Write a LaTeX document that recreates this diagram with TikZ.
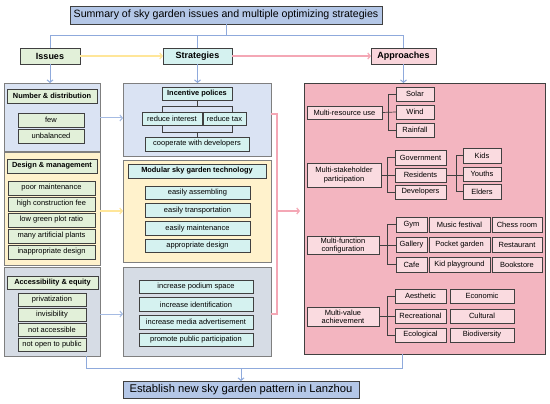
\documentclass[tikz,border=0pt]{standalone}
\usepackage{fontspec}
\setmainfont{Liberation Sans}
\usetikzlibrary{arrows.meta}
\definecolor{titleb}{HTML}{B4C7E7}
\definecolor{greenf}{HTML}{E2F0D9}
\definecolor{cyanf}{HTML}{D5F2F0}
\definecolor{pinkh}{HTML}{F9D5DB}
\definecolor{secb}{HTML}{DAE3F3}
\definecolor{secy}{HTML}{FFF2CC}
\definecolor{secg}{HTML}{D6DCE5}
\definecolor{apf}{HTML}{F3B5C0}
\definecolor{api}{HTML}{FADBE0}
\definecolor{lineb}{HTML}{8FAADC}
\definecolor{liney}{HTML}{FFE699}
\definecolor{linep}{HTML}{F4A7B5}
\definecolor{edgec}{HTML}{404040}
\definecolor{secedge}{HTML}{7F7F7F}
\newcommand{\mkbox}[7]{\node[#6, minimum width={#4-#2}, minimum height={#5-#3}] (#1) at ({(#2+#4)/2},{(#3+#5)/2}) {#7};}
\tikzset{
  base/.style={inner sep=0pt, outer sep=0pt, align=center, text=black, font=\fontsize{7.5}{8.4}\selectfont},
  sect/.style={base, draw=secedge, line width=0.8pt},
  hdr/.style={base, draw=edgec, line width=0.8pt, font=\bfseries\fontsize{7.4}{8.5}\selectfont},
  itg/.style={base, draw=edgec, fill=greenf, line width=0.7pt},
  itc/.style={base, draw=edgec, fill=cyanf, line width=0.7pt},
  itp/.style={base, draw=edgec, fill=api, line width=0.7pt},
  top/.style={base, draw=edgec, line width=0.8pt, font=\bfseries\fontsize{9}{10}\selectfont},
  big/.style={base, draw=edgec, fill=titleb, line width=0.8pt},
  bl/.style={draw=lineb, line width=1pt},
  tipb/.style={-{Straight Barb[length=2.5pt,width=6pt]}},
  brk/.style={draw=edgec, line width=0.7pt},
}
\begin{document}
\begin{tikzpicture}[x=1pt,y=-1pt]
\useasboundingbox[fill=white] (0,0) rectangle (550,404);
% top level
\mkbox{title}{70}{6}{382}{24}{big, font=\fontsize{10.6}{12}\selectfont}{Summary of sky garden issues and multiple optimizing strategies}
\mkbox{iss}{20}{48}{80}{64}{top, fill=greenf}{Issues}
\mkbox{str}{163}{48}{232}{64}{top, fill=cyanf}{Strategies}
\mkbox{app}{371}{48}{436}{64}{top, fill=pinkh}{Approaches}
\coordinate (tl) at (226,36);
\draw[bl] (title.south) -- (tl);
\draw[bl] (tl) -| (iss.north);
\draw[bl] (tl) -| (app.north);
\draw[bl] (str.north |- tl) -- (str.north);
\draw[draw=liney, line width=1.2pt, tipb] (iss.east) -- (str.west);
\draw[draw=linep, line width=1.2pt, tipb] (str.east) -- (app.west);
% sections
\mkbox{LA}{4}{83}{100}{151}{sect, fill=secb}{}
\mkbox{LB}{4}{152}{100}{265}{sect, fill=secy}{}
\mkbox{LC}{4}{267}{100}{356}{sect, fill=secg}{}
\mkbox{MA}{123}{83}{271}{156}{sect, fill=secb}{}
\mkbox{MB}{123}{160}{271}{262}{sect, fill=secy}{}
\mkbox{MC}{123}{267}{271}{356}{sect, fill=secg}{}
\mkbox{AP}{304}{83}{545}{354}{sect, draw=edgec, fill=apf}{}
\draw[bl, tipb] (iss.south) -- (LA.north -| iss.south);
\draw[bl, tipb] (str.south) -- (MA.north -| str.south);
\draw[bl, tipb] (app.south) -- (AP.north -| app.south);
% left column
\mkbox{h1}{7}{89}{97}{103}{hdr, fill=greenf}{Number \& distribution}
\mkbox{few}{18}{113}{84}{127}{itg}{few}
\mkbox{unb}{18}{129}{84}{143}{itg}{unbalanced}
\mkbox{h2}{7}{159}{97}{173}{hdr, fill=greenf}{Design \& management}
\mkbox{pm}{8}{181}{95}{195}{itg}{poor maintenance}
\mkbox{hc}{8}{197}{95}{211}{itg}{high construction fee}
\mkbox{lg}{8}{213}{95}{227}{itg}{low green plot ratio}
\mkbox{ma}{8}{229}{95}{243}{itg}{many artificial plants}
\mkbox{idz}{8}{245}{95}{259}{itg}{inappropriate design}
\mkbox{h3}{7}{276}{98}{289}{hdr, fill=greenf}{Accessibility \& equity}
\mkbox{pv}{18}{293}{86}{306.5}{itg}{privatization}
\mkbox{iv}{18}{308}{86}{321.5}{itg}{invisibility}
\mkbox{na}{18}{323}{86}{336.5}{itg}{not accessible}
\mkbox{no}{18}{338}{86}{351.5}{itg}{not open to public}
% middle column
\coordinate (brTL) at (162,106);
\coordinate (brBR) at (232,132);
\mkbox{ip}{162}{87}{232}{100}{hdr, fill=cyanf}{Incentive polices}
\mkbox{coop}{145}{137}{249}{151}{itc}{cooperate with developers}
\draw[brk] (brTL) rectangle (brBR);
\draw[brk] (ip.south) -- (ip.south |- brTL);
\draw[brk] (coop.north |- brBR) -- (coop.north);
\mkbox{ri}{142}{112}{202}{125.5}{itc}{reduce interest}
\mkbox{rt}{203}{112}{246}{125.5}{itc}{reduce tax}
\mkbox{mod}{128}{164}{266}{178}{hdr, fill=cyanf}{Modular sky garden technology}
\mkbox{ea}{145}{186}{250}{199.5}{itc}{easily assembling}
\mkbox{et}{145}{203.8}{250}{217.3}{itc}{easily transportation}
\mkbox{em}{145}{221.6}{250}{235.1}{itc}{easily maintenance}
\mkbox{ad}{145}{239.3}{250}{252.8}{itc}{appropriate design}
\mkbox{ps}{139}{280}{253}{293.5}{itc}{increase podium space}
\mkbox{ii}{139}{297.7}{253}{311.2}{itc}{increase identification}
\mkbox{im}{139}{315.4}{253}{328.9}{itc}{increase media advertisement}
\mkbox{pp}{139}{333}{253}{346.5}{itc}{promote public participation}
% inter-column arrows
\draw[draw=lineb!80, line width=1pt, tipb] (LA.east |- 0,118) -- (MA.west |- 0,118);
\draw[draw=liney, line width=1.2pt, tipb] (LB.east |- MB.west) -- (MB.west);
\draw[draw=lineb!80, line width=1pt, tipb] (LC.east |- 0,314) -- (MC.west |- 0,314);
\coordinate (pbT) at (277,114);
\coordinate (pbB) at (277,314);
\coordinate (pbM) at (277,211);
\draw[draw=linep, line width=1.2pt] (MA.east |- pbT) -- (pbT) -- (pbB) -- (MC.east |- pbB);
\draw[draw=linep, line width=1.2pt, tipb, shorten >=4pt] (pbM) -- (AP.west |- pbM);
% approaches
\mkbox{mr}{307}{106}{382}{119}{itp}{Multi-resource use}
\mkbox{solar}{396}{87}{434}{101}{itp}{Solar}
\mkbox{wind}{396}{105}{434}{119}{itp}{Wind}
\mkbox{rain}{396}{123}{434}{137}{itp}{Rainfall}
\draw[brk] (solar.west) -- ++(-8,0) |- (rain.west);
\draw[brk] (mr.east) -- (wind.west);
\mkbox{ms}{307}{163}{381}{187}{itp}{Multi-stakeholder\\participation}
\mkbox{gov}{395}{150}{446}{165}{itp}{Government}
\mkbox{res}{395}{168}{446}{182}{itp}{Residents}
\mkbox{dev}{395}{185}{446}{199}{itp}{Developers}
\draw[brk] (gov.west) -- ++(-8,0) |- (dev.west);
\draw[brk] (ms.east) -- (res.west);
\mkbox{kids}{463}{148}{501}{163}{itp}{Kids}
\mkbox{youths}{463}{167}{501}{181}{itp}{Youths}
\mkbox{elders}{463}{184}{501}{199}{itp}{Elders}
\draw[brk] (kids.west) -- ++(-7,0) |- (elders.west);
\draw[brk] (res.east) -- (res.east -| youths.west);
\mkbox{mf}{307}{236.5}{379}{254.5}{itp}{Multi-function\\configuration}
\mkbox{gym}{396}{217}{427}{232}{itp}{Gym}
\mkbox{music}{429}{217}{490}{232}{itp}{Music festival}
\mkbox{chess}{492}{217}{542}{232}{itp}{Chess room}
\mkbox{gal}{396}{237}{427}{252}{itp}{Gallery}
\mkbox{pocket}{429}{237}{490}{252}{itp}{Pocket garden}
\mkbox{rest}{492}{237}{542}{252}{itp}{Restaurant}
\mkbox{cafe}{396}{257}{427}{272}{itp}{Cafe}
\mkbox{kidp}{429}{257}{490}{272}{itp}{Kid playground}
\mkbox{book}{492}{257}{542}{272}{itp}{Bookstore}
\draw[brk] (gym.west) -- ++(-9,0) |- (cafe.west);
\draw[brk] (mf.east) -- (mf.east -| gal.west);
\mkbox{mv}{307}{307.5}{379}{326}{itp}{Multi-value\\achievement}
\mkbox{aes}{395}{289}{446}{303}{itp}{Aesthetic}
\mkbox{eco}{450}{289}{514}{303}{itp}{Economic}
\mkbox{rec}{395}{309}{446}{323}{itp}{Recreational}
\mkbox{cul}{450}{309}{514}{323}{itp}{Cultural}
\mkbox{ecol}{395}{328}{446}{342}{itp}{Ecological}
\mkbox{bio}{450}{328}{514}{342}{itp}{Biodiversity}
\draw[brk] (aes.west) -- ++(-8,0) |- (ecol.west);
\draw[brk] (mv.east) -- (mv.east -| rec.west);
% bottom
\mkbox{est}{123}{381}{359}{398}{big, font=\fontsize{11.2}{13}\selectfont}{Establish new sky garden pattern in Lanzhou}
\coordinate (bL) at (86,368);
\coordinate (bR) at (402,368);
\draw[bl] (LC.south -| bL) -- (bL) -- (bR) -- (AP.south -| bR);
\draw[bl, tipb] (est.north |- bL) -- (est.north);
\end{tikzpicture}
\end{document}
